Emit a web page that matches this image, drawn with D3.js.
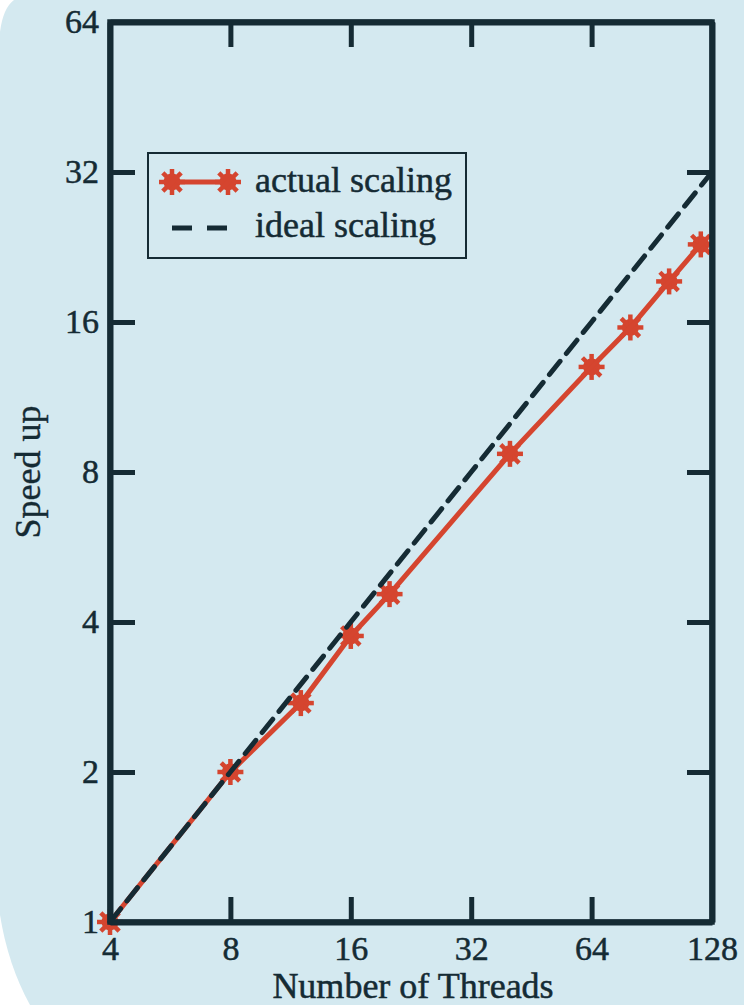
<!DOCTYPE html>
<html><head><meta charset="utf-8">
<script src="https://cdn.jsdelivr.net/npm/d3@7"></script>
<style>html,body{margin:0;padding:0;background:#fff;}svg{display:block;}</style>
</head><body>
<svg id="chart" width="744" height="1005"></svg>
<script>
// Data
const threads = [4, 8, 12, 16, 20, 40, 64, 80, 100, 120];
const actualSpeedup = [1, 2, 2.75, 3.75, 4.55, 8.7, 13.0, 15.6, 19.3, 22.9];
const idealThreads = [4, 8, 16, 32, 64, 128];
const idealSpeedup = [1, 2, 4, 8, 16, 32];
const xTicks = [4, 8, 16, 32, 64, 128];
const yTicks = [1, 2, 4, 8, 16, 32, 64];
const legendLabels = ["actual scaling", "ideal scaling"];

const L = 110, R = 712, T = 22, B = 922;
const bg = "#d4e9f0", red = "#d5452f", dark = "#152b34";
const font = "'Liberation Serif', 'Times New Roman', serif";

const svg = d3.select("#chart");
svg.append("path")
  .attr("d", "M14,0 L744,0 L744,1005 L30,1005 Q8,965 0,915 L0,32 Q3,8 14,0 Z")
  .attr("fill", bg);

const x = d3.scaleLog().base(2).domain([4, 128]).range([L, R]);
const y = d3.scaleLog().base(2).domain([1, 64]).range([B, T]);

const line = d3.line().x(d => x(d[0])).y(d => y(d[1]));
const actual = threads.map((t, i) => [t, actualSpeedup[i]]);
const ideal = idealThreads.map((t, i) => [t, idealSpeedup[i]]);

function marker(g, cx, cy) {
  const m = g.append("g").attr("transform", `translate(${cx},${cy})`);
  m.append("circle").attr("r", 8.5).attr("fill", red);
  for (let k = 0; k < 4; k++) {
    const a = k * Math.PI / 4;
    m.append("line")
      .attr("x1", -13 * Math.cos(a)).attr("y1", -13 * Math.sin(a))
      .attr("x2", 13 * Math.cos(a)).attr("y2", 13 * Math.sin(a))
      .attr("stroke", red).attr("stroke-width", 4.5);
  }
}

svg.append("clipPath").attr("id", "clip")
  .append("rect").attr("x", L - 20).attr("y", T).attr("width", R - L + 20).attr("height", B - T + 20);

const data = svg.append("g").attr("clip-path", "url(#clip)");
data.append("path").datum(actual).attr("d", line)
  .attr("fill", "none").attr("stroke", red).attr("stroke-width", 5);
actual.forEach(d => marker(data, x(d[0]), y(d[1])));
data.append("path").datum(ideal).attr("d", line)
  .attr("fill", "none").attr("stroke", dark).attr("stroke-width", 5)
  .attr("stroke-dasharray", "17,10").attr("stroke-linecap", "round");

// axes
function styleAxis(g) {
  g.selectAll("path.domain").attr("stroke", dark).attr("stroke-width", 6);
  g.selectAll(".tick line").attr("stroke", dark).attr("stroke-width", 5);
  g.selectAll(".tick text").attr("fill", dark).attr("font-family", font).attr("font-size", 34)
    .attr("stroke", dark).attr("stroke-width", 0.5);
}
const fmt = d => String(d);
svg.append("g").attr("transform", `translate(0,${B})`)
  .call(d3.axisBottom(x).tickValues(xTicks).tickFormat(fmt).tickSizeInner(-25).tickSizeOuter(0).tickPadding(14))
  .call(styleAxis);
svg.append("g").attr("transform", `translate(0,${T})`)
  .call(d3.axisTop(x).tickValues(xTicks).tickFormat("").tickSizeInner(-25).tickSizeOuter(0))
  .call(styleAxis);
svg.append("g").attr("transform", `translate(${L},0)`)
  .call(d3.axisLeft(y).tickValues(yTicks).tickFormat(fmt).tickSizeInner(-25).tickSizeOuter(0).tickPadding(11))
  .call(styleAxis);
svg.append("g").attr("transform", `translate(${R},0)`)
  .call(d3.axisRight(y).tickValues(yTicks).tickFormat("").tickSizeInner(-25).tickSizeOuter(0))
  .call(styleAxis);
svg.append("rect").attr("x", L).attr("y", T).attr("width", R - L).attr("height", B - T)
  .attr("fill", "none").attr("stroke", dark).attr("stroke-width", 5.5);

// axis titles
svg.append("text").attr("x", (L + R) / 2 + 2).attr("y", 998).attr("text-anchor", "middle")
  .attr("font-family", font).attr("font-size", 36).attr("fill", dark)
  .attr("stroke", dark).attr("stroke-width", 0.5).text("Number of Threads");
svg.append("text").attr("transform", `translate(40,472) rotate(-90)`).attr("text-anchor", "middle")
  .attr("font-family", font).attr("font-size", 36).attr("fill", dark)
  .attr("stroke", dark).attr("stroke-width", 0.4).text("Speed up");

// legend
const lg = svg.append("g");
lg.append("rect").attr("x", 148).attr("y", 153).attr("width", 318).attr("height", 105)
  .attr("fill", bg).attr("stroke", dark).attr("stroke-width", 2);
lg.append("line").attr("x1", 172).attr("x2", 228).attr("y1", 182).attr("y2", 182)
  .attr("stroke", red).attr("stroke-width", 5);
marker(lg, 172, 182);
marker(lg, 228, 182);
lg.append("line").attr("x1", 172).attr("x2", 228).attr("y1", 228).attr("y2", 228)
  .attr("stroke", dark).attr("stroke-width", 5).attr("stroke-dasharray", "20,15");
lg.selectAll("text.leg").data(legendLabels).join("text").attr("class", "leg")
  .attr("x", 255).attr("y", (d, i) => 192 + i * 45)
  .attr("font-family", font).attr("font-size", 36).attr("fill", dark)
  .attr("stroke", dark).attr("stroke-width", 0.5).text(d => d);
</script>
</body></html>
